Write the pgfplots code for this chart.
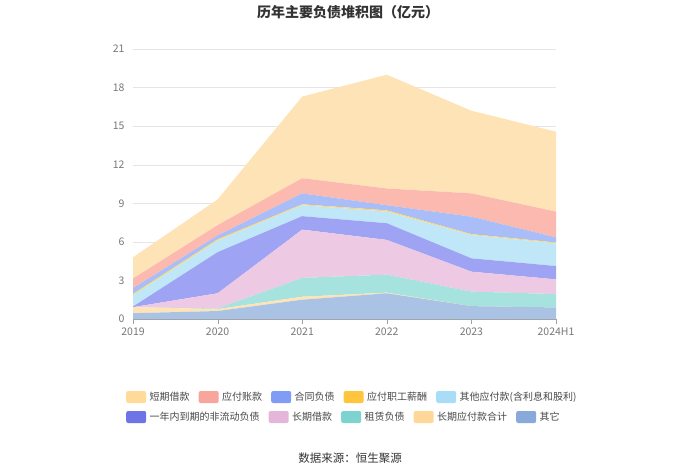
\documentclass[border=0pt]{standalone}
\usepackage{pgfplots}
\pgfplotsset{compat=1.18}
\usepackage{fontspec}
\setmainfont{Noto Sans CJK SC}

% area colours
\definecolor{aDQ}{HTML}{FDE3B5}
\definecolor{aYF}{HTML}{FBB9AF}
\definecolor{aHT}{HTML}{A9BDF8}
\definecolor{aZG}{HTML}{FFD66B}
\definecolor{aQT}{HTML}{C0E7F8}
\definecolor{aYN}{HTML}{9FA3F3}
\definecolor{aCQ}{HTML}{EEC9E4}
\definecolor{aZL}{HTML}{A6E2DE}
\definecolor{aCF}{HTML}{FDE3B5}
\definecolor{aOT}{HTML}{AAC2E4}
% legend colours
\definecolor{lDQ}{HTML}{FFDA99}
\definecolor{lYF}{HTML}{F8A59B}
\definecolor{lHT}{HTML}{819CF5}
\definecolor{lZG}{HTML}{FFC53D}
\definecolor{lQT}{HTML}{A9DDF7}
\definecolor{lYN}{HTML}{6E73E6}
\definecolor{lCQ}{HTML}{E5B5DA}
\definecolor{lZL}{HTML}{7DD3CF}
\definecolor{lCF}{HTML}{FFD899}
\definecolor{lOT}{HTML}{89A9DB}
\definecolor{txt}{HTML}{333333}
\definecolor{tick}{HTML}{777777}

\pgfplotsset{
  legrow/.style={
    at={(0,0)}, anchor=south west, scale only axis,
    width=700pt, height=474pt, hide axis,
    xmin=0, xmax=1, ymin=0, ymax=1,
    legend columns=5,
    legend image code/.code={\fill[##1, draw=none, rounded corners=2pt] (0pt,-6pt) rectangle (20pt,6pt);},
    legend style={draw=none, fill=none, inner sep=0pt, anchor=west,
      font=\fontsize{10pt}{12pt}\selectfont, text=txt!90,
      nodes={inner xsep=3.5pt, inner ysep=1pt},
      /tikz/every even column/.append style={column sep=5.5pt}},
  }
}

\begin{document}
\begin{tikzpicture}
\useasboundingbox (0,0) rectangle (700pt,474pt);

\begin{axis}[
  at={(133pt,155pt)}, anchor=south west,
  scale only axis, width=423pt, height=270pt,
  xmin=0, xmax=5, ymin=0, ymax=21,
  stack plots=y,
  xtick={0,...,5},
  xticklabels={2019,2020,2021,2022,2023,2024H1},
  ytick={0,3,...,21},
  axis x line*=bottom, axis y line*=left,
  x axis line style={-, draw=tick!70},
  y axis line style={draw=none},
  ytick style={draw=none},
  xtick style={draw=tick!70},
  tick align=outside, major tick length=5pt,
  ymajorgrids, grid style={draw=gray!20},
  tick label style={text=tick, font=\fontsize{10.5pt}{12pt}\selectfont},
  /pgf/number format/assume math mode=true,
  every axis plot/.append style={draw=none},
]
% bottom to top
\addplot[fill=aOT] coordinates {(0,0.45) (1,0.62) (2,1.50) (3,2.00) (4,1.00) (5,0.90)} \closedcycle;
\addplot[fill=aCF] coordinates {(0,0.47) (1,0.15) (2,0.23) (3,0.05) (4,0.00) (5,0.00)} \closedcycle;
\addplot[fill=aZL] coordinates {(0,0.00) (1,0.05) (2,1.47) (3,1.40) (4,1.13) (5,1.04)} \closedcycle;
\addplot[fill=aCQ] coordinates {(0,0.00) (1,1.18) (2,3.75) (3,2.70) (4,1.55) (5,1.14)} \closedcycle;
\addplot[fill=aYN] coordinates {(0,0.05) (1,3.20) (2,1.05) (3,1.30) (4,1.04) (5,1.04)} \closedcycle;
\addplot[fill=aQT] coordinates {(0,0.88) (1,0.90) (2,0.85) (3,0.90) (4,1.81) (5,1.76)} \closedcycle;
\addplot[fill=aZG] coordinates {(0,0.10) (1,0.10) (2,0.07) (3,0.10) (4,0.07) (5,0.07)} \closedcycle;
\addplot[fill=aHT] coordinates {(0,0.45) (1,0.30) (2,0.85) (3,0.40) (4,1.36) (5,0.40)} \closedcycle;
\addplot[fill=aYF] coordinates {(0,0.75) (1,0.80) (2,1.18) (3,1.30) (4,1.81) (5,2.00)} \closedcycle;
\addplot[fill=aDQ] coordinates {(0,1.65) (1,2.00) (2,6.35) (3,8.85) (4,6.43) (5,6.22)} \closedcycle;
\end{axis}

\begin{axis}[legrow, legend style={at={(126/700,77/474)}}]
\addlegendimage{fill=lDQ}\addlegendentry{短期借款}
\addlegendimage{fill=lYF}\addlegendentry{应付账款}
\addlegendimage{fill=lHT}\addlegendentry{合同负债}
\addlegendimage{fill=lZG}\addlegendentry{应付职工薪酬}
\addlegendimage{fill=lQT}\addlegendentry{其他应付款(含利息和股利)}
\end{axis}

\begin{axis}[legrow, legend style={at={(126/700,57/474)}}]
\addlegendimage{fill=lYN}\addlegendentry{一年内到期的非流动负债}
\addlegendimage{fill=lCQ}\addlegendentry{长期借款}
\addlegendimage{fill=lZL}\addlegendentry{租赁负债}
\addlegendimage{fill=lCF}\addlegendentry{长期应付款合计}
\addlegendimage{fill=lOT}\addlegendentry{其它}
\end{axis}

\node[font=\bfseries\fontsize{14pt}{16pt}\selectfont, text=txt] at (348pt,462pt) {历年主要负债堆积图（亿元）};
\node[font=\fontsize{11.5pt}{13pt}\selectfont, text=txt] at (350pt,16pt) {数据来源：恒生聚源};
\end{tikzpicture}
\end{document}
